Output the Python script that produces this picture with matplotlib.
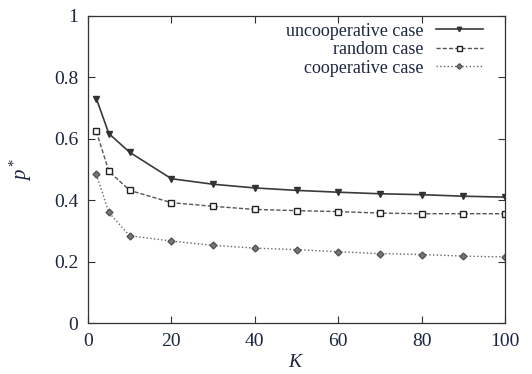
import matplotlib
matplotlib.use("Agg")
import matplotlib.pyplot as plt

K = [2, 5, 10, 20, 30, 40, 50, 60, 70, 80, 90, 100]
uncooperative = [0.731, 0.617, 0.556, 0.470, 0.452, 0.440, 0.432, 0.426, 0.421, 0.418, 0.413, 0.410]
random_case = [0.624, 0.494, 0.432, 0.392, 0.380, 0.370, 0.366, 0.363, 0.358, 0.356, 0.356, 0.356]
cooperative = [0.484, 0.360, 0.284, 0.267, 0.253, 0.244, 0.239, 0.232, 0.226, 0.223, 0.218, 0.215]
xticks = [0, 20, 40, 60, 80, 100]
yticks = [0, 0.2, 0.4, 0.6, 0.8, 1]
ytick_labels = ["0", "0.2", "0.4", "0.6", "0.8", "1"]

plt.rcParams['font.family'] = ['Liberation Serif', 'DejaVu Serif']
plt.rcParams['mathtext.fontset'] = 'custom'
plt.rcParams['mathtext.it'] = 'Liberation Serif:italic'
plt.rcParams['mathtext.rm'] = 'Liberation Serif'
txt = '#1c2640'

fig = plt.figure(figsize=(5.32, 3.74), dpi=100)
ax = fig.add_axes([88/532, 1-323/374, (505-88)/532, (323-16)/374])

ax.plot(K, uncooperative, '-', color='#3a3a3a', lw=1.2, marker='v', ms=4,
        mfc='#333333', mec='#333333', label='uncooperative case')
ax.plot(K, random_case, '--', color='#555555', lw=1.0, dashes=(3, 1.5), marker='s', ms=4.5,
        mfc='white', mec='#222222', mew=1.0, label='random case')
ax.plot(K, cooperative, ':', color='#666666', lw=1.0, marker='D', ms=3.5,
        mfc='#777777', mec='#555555', label='cooperative case')

ax.set_xlim(0, 100)
ax.set_ylim(0, 1)
ax.set_xticks(xticks)
ax.set_yticks(yticks)
ax.set_yticklabels(ytick_labels)
ax.tick_params(direction='in', top=True, right=True, length=5, width=0.8,
               labelsize=14, labelcolor=txt, color='#333333', pad=7)
for s in ax.spines.values():
    s.set_color('#333333')
    s.set_linewidth(0.9)

ax.set_xlabel('$K$', fontsize=14, color=txt, labelpad=3)
ax.set_ylabel('$p^*$', fontsize=15, color=txt, labelpad=14)

leg = ax.legend(loc='upper right', bbox_to_anchor=(0.947, 0.978), frameon=False,
                markerfirst=False, fontsize=13, handlelength=2.6, handletextpad=0.7,
                labelspacing=0.08, borderaxespad=0.0, borderpad=0.0, markerscale=0.8)
for t in leg.get_texts():
    t.set_color(txt)
    t.set_ha('right')

fig.savefig('out.png', dpi=100)
